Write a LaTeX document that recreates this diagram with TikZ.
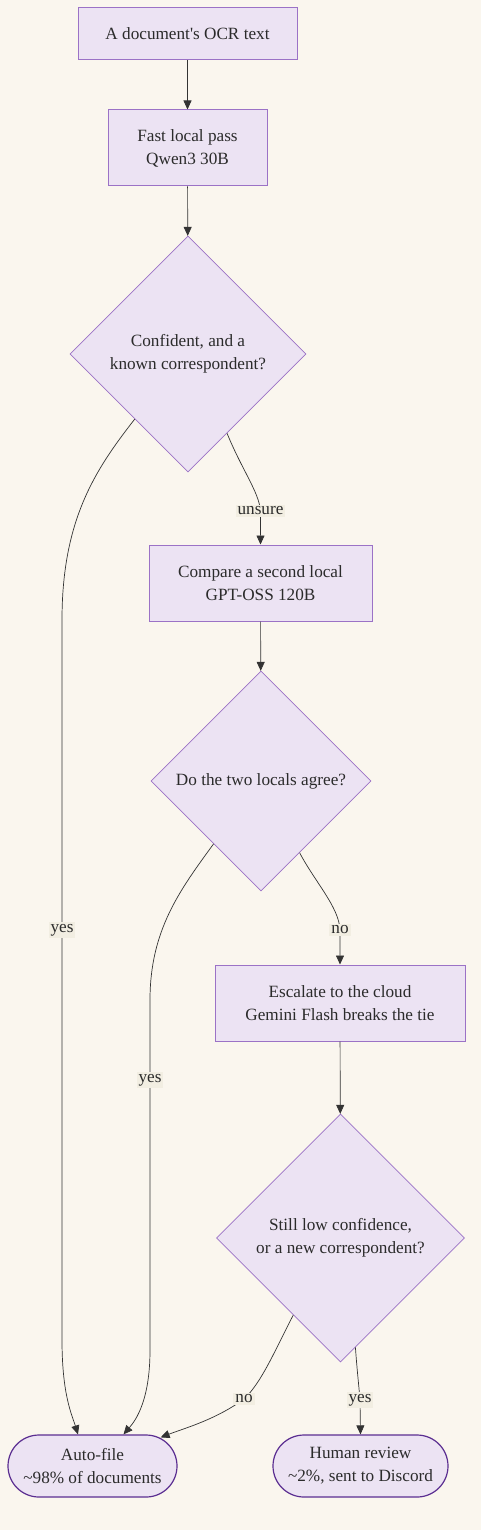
\documentclass[tikz,border=0pt]{standalone}
\usepackage{fontspec}
\setmainfont{Liberation Serif}
\usetikzlibrary{shapes.geometric,calc,arrows.meta}
\definecolor{bg}{HTML}{FAF6EE}
\definecolor{nodefill}{HTML}{ECE3F3}
\definecolor{nodedraw}{HTML}{9B72C6}
\definecolor{termdraw}{HTML}{5B2E91}
\definecolor{edgec}{HTML}{333333}
\definecolor{lblbg}{HTML}{F2EEE2}
\definecolor{txt}{HTML}{2B2B2B}
\begin{document}
\begin{tikzpicture}[x=1pt,y=-1pt,
  every node/.style={font=\fontsize{17.2}{23}\selectfont, text=txt, align=center},
  box/.style={draw=nodedraw, fill=nodefill, line width=1pt, rectangle, inner sep=0pt},
  dec/.style={draw=nodedraw, fill=nodefill, line width=0.8pt, diamond, aspect=1, inner sep=0pt},
  term/.style={draw=termdraw, fill=nodefill, line width=1.2pt, rectangle, rounded corners=31pt, minimum width=169pt, minimum height=62pt, inner sep=0pt},
  arr/.style={draw=edgec, line width=0.7pt, -{Triangle[length=9pt,width=8pt]}},
  lbl/.style={fill=lblbg, inner sep=2pt}
]
\fill[bg] (0,0) rectangle (481,1530);

\node[box, minimum width=219pt, minimum height=52pt] (A) at (187.5,34) {A document\textquotesingle s OCR text};
\node[box, minimum width=159pt, minimum height=76pt] (B) at (187.5,148) {Fast local pass\\Qwen3 30B};
\node[dec, minimum width=236pt, minimum height=236pt] (C) at (188,354) {Confident, and a\\known correspondent?};
\node[box, minimum width=223pt, minimum height=76pt] (D) at (260.5,583) {Compare a second local\\GPT-OSS 120B};
\node[dec, minimum width=220pt, minimum height=220pt] (E) at (261,781) {Do the two locals agree?};
\node[box, minimum width=250pt, minimum height=76pt] (F) at (340,1003) {Escalate to the cloud\\Gemini Flash breaks the tie};
\node[dec, minimum width=248pt, minimum height=248pt] (G) at (340.5,1238) {Still low confidence,\\or a new correspondent?};
\node[term] (H) at (92.5,1466) {Auto-file\\\char`~98\% of documents};
\node[term, minimum width=175pt] (I) at (360.5,1466) {Human review\\\char`~2\%, sent to Discord};

\draw[arr] (A) -- (B);
\draw[arr] (B) -- (C);
\draw[arr] ($(C.east)!0.67!(C.south)$) .. controls (242,470) and (259,492) .. (260.5,511) node[lbl] {unsure} -- (D.north);
\draw[arr] ($(C.west)!0.55!(C.south)$) .. controls (95,470) and (62,520) .. (62,620) -- (62,930) node[lbl] {yes} -- (62,1340) .. controls (62,1395) and (72,1415) .. ([xshift=-14.5pt]H.north);
\draw[arr] (D) -- (E);
\draw[arr] ($(E.east)!0.65!(E.south)$) .. controls (315,882) and (339,907) .. (340,930) node[lbl] {no} -- (F.north);
\draw[arr] ($(E.west)!0.57!(E.south)$) .. controls (180,890) and (150,930) .. (150,1000) -- (150,1080) node[lbl] {yes} -- (150,1350) .. controls (150,1400) and (136,1420) .. ([xshift=31pt]H.north);
\draw[arr] (F) -- (G);
\draw[arr] ($(G.west)!0.62!(G.south)$) .. controls (275,1350) and (262,1382) .. (244,1399) node[lbl] {no} .. controls (215,1420) and (185,1428) .. ([xshift=-17pt,yshift=-3pt]H.north east);
\draw[arr] ($(G.east)!0.88!(G.south)$) .. controls (357,1370) and (359,1387) .. (360,1400) node[lbl] {yes} -- (I.north);
\end{tikzpicture}
\end{document}
